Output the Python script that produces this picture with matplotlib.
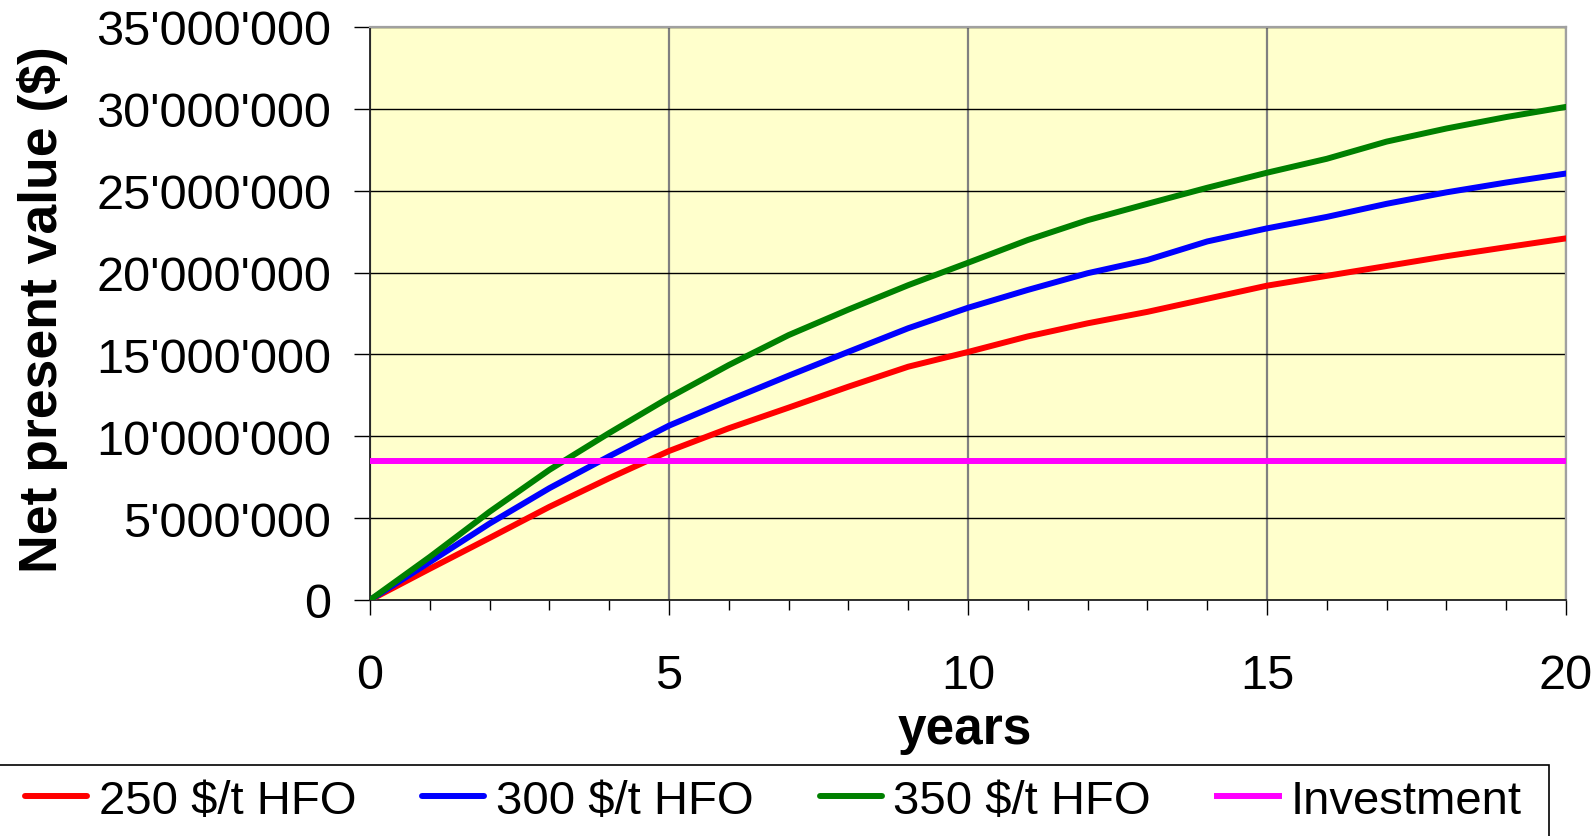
import numpy as np
import matplotlib
matplotlib.use("Agg")
import matplotlib.pyplot as plt
from matplotlib.ticker import FuncFormatter, MultipleLocator
from matplotlib.patches import Rectangle

plt.rcParams['font.family'] = ['Liberation Sans', 'DejaVu Sans']

# Net present value over the project life, in millions of dollars
years = list(range(0, 21))
npv_250 = [0.0, 1.91, 3.79, 5.69, 7.44, 9.10, 10.49, 11.75, 13.03, 14.25, 15.15,
           16.10, 16.90, 17.60, 18.40, 19.20, 19.80, 20.40, 21.00, 21.55, 22.09]
npv_300 = [0.0, 2.32, 4.67, 6.83, 8.78, 10.65, 12.20, 13.70, 15.16, 16.60, 17.85,
           18.94, 19.96, 20.77, 21.90, 22.70, 23.40, 24.20, 24.90, 25.50, 26.05]
npv_350 = [0.0, 2.63, 5.39, 7.95, 10.20, 12.36, 14.35, 16.18, 17.74, 19.23, 20.60,
           21.99, 23.20, 24.20, 25.18, 26.10, 26.95, 28.00, 28.80, 29.50, 30.12]
investment = 8.5

series_labels = ["250 $/t HFO", "300 $/t HFO", "350 $/t HFO", "Investment"]
series_colors = ["#FF0000", "#0000FF", "#008000", "#FF00FF"]

W, H = 1596, 837
fig = plt.figure(figsize=(W / 100, H / 100), dpi=100)
ax = fig.add_axes([370 / W, 1 - 601 / H, 1196 / W, 573 / H])
ax.set_facecolor("#FFFFCC")

x = np.array(years, dtype=float)
lw = 4.3
handles = []
for vals, lab, col in zip([npv_250, npv_300, npv_350], series_labels[:3], series_colors[:3]):
    h, = ax.plot(x, np.array(vals) * 1e6, color=col, lw=lw, label=lab,
                 solid_capstyle='round', solid_joinstyle='round', zorder=3)
    handles.append(h)
h, = ax.plot([x[0], x[-1]], [investment * 1e6] * 2, color=series_colors[3], lw=lw,
             label=series_labels[3], zorder=3)
handles.append(h)

ax.set_xlim(0, 20)
ax.set_ylim(0, 35e6)
ax.xaxis.set_major_locator(MultipleLocator(5))
ax.xaxis.set_minor_locator(MultipleLocator(1))
ax.yaxis.set_major_locator(MultipleLocator(5e6))
ax.yaxis.set_major_formatter(FuncFormatter(lambda v, p: f"{int(round(v)):,}".replace(",", "'")))

ax.tick_params(axis='x', which='major', direction='out', length=10.5, width=1.0,
               pad=28, labelsize=35, colors='black')
ax.tick_params(axis='x', which='minor', direction='out', length=7.5, width=1.0)
ax.tick_params(axis='y', which='major', direction='out', length=11.5, width=1.0,
               pad=16.5, labelsize=35)

# gridlines: black horizontal, grey vertical
ax.grid(axis='y', which='major', color='black', lw=1.0, zorder=1)
ax.grid(axis='x', which='major', color='#808080', lw=1.6, zorder=1)
ax.set_axisbelow(True)

for side in ('left', 'bottom'):
    ax.spines[side].set_color('#202020')
    ax.spines[side].set_linewidth(1.3)
for side in ('top', 'right'):
    ax.spines[side].set_color('#A0A0A0')
    ax.spines[side].set_linewidth(1.6)

fig.text(43 / W, 1 - 310 / H, "Net present value ($)", rotation=90, ha='center',
         va='center', fontsize=38.5, fontweight='bold')
fig.text(965 / W, 1 - 731 / H, "years", ha='center', va='center',
         fontsize=37, fontweight='bold')

# legend box running off the lower-left edge of the canvas
fig.patches.append(Rectangle((-0.02, -0.1), 1549 / W + 0.02, 1 - 766 / H + 0.1,
                             transform=fig.transFigure, facecolor='white',
                             edgecolor='black', lw=1.2, zorder=0))
fig.legend(handles=handles, labels=series_labels, loc='center left',
           bbox_to_anchor=(25 / W, 1 - 802 / H), ncol=4, frameon=False,
           fontsize=34, handlelength=1.31, handletextpad=0.25, columnspacing=1.40,
           borderpad=0, borderaxespad=0)

fig.savefig("out.png", dpi=100)
